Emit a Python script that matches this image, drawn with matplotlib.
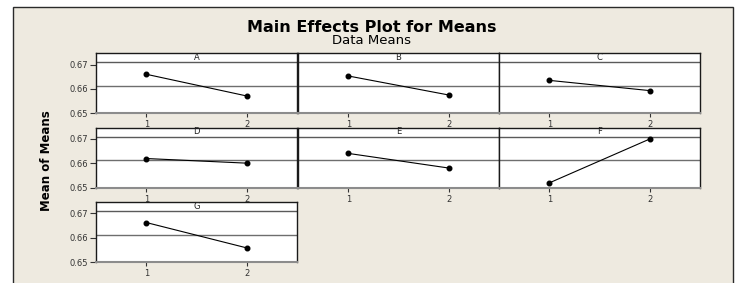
import numpy as np
import matplotlib
matplotlib.use("Agg")
import matplotlib.pyplot as plt
from matplotlib.patches import Rectangle

# factor levels and the mean response at each level
factors = ["A", "B", "C", "D", "E", "F", "G"]
levels = [1, 2]
level_means = {
    "A": [0.6660, 0.6571],
    "B": [0.6653, 0.6575],
    "C": [0.6635, 0.6593],
    "D": [0.6620, 0.6601],
    "E": [0.6641, 0.6581],
    "F": [0.6520, 0.6700],
    "G": [0.6663, 0.6559],
}
y_ticks = [0.65, 0.66, 0.67]
y_tick_labels = ["0.65", "0.66", "0.67"]

grand_mean = np.mean([v for vals in level_means.values() for v in vals])

W, H = 740, 283
fig = plt.figure(figsize=(W / 100, H / 100), dpi=100)
fig.patch.set_facecolor("white")

# beige frame like the Minitab graph window
frame = Rectangle((13 / W, -0.05), (733 - 13) / W, 1 - 7 / H + 0.05,
                  transform=fig.transFigure, facecolor="#EEEAE0",
                  edgecolor="#2a2a2a", lw=1.0, zorder=-10)
fig.add_artist(frame)

fig.text(372 / W, 1 - 27 / H, "Main Effects Plot for Means", ha="center",
         va="center", fontsize=11.5, fontweight="bold", color="black")
fig.text(372 / W, 1 - 40 / H, "Data Means", ha="center", va="center",
         fontsize=9.5, color="black")
fig.text(46 / W, 1 - 161 / H, "Mean of Means", rotation=90, ha="center",
         va="center", fontsize=8.5, fontweight="bold",
         family=["Liberation Sans Narrow", "DejaVu Sans"])

col_left = [96, 298, 499]
col_w = 201
row_top = [53, 127.5, 202]
row_h = 60.3
strip_frac = 1 - 9 / row_h

for i, f in enumerate(factors):
    r, c = divmod(i, 3)
    left = col_left[c] / W
    bottom = 1 - (row_top[r] + row_h) / H
    ax = fig.add_axes([left, bottom, col_w / W, row_h / H])
    ax.set_facecolor("white")

    ax.plot(levels, level_means[f], color="black", lw=0.8, marker="o",
            markersize=3.3, zorder=3)
    ax.axhline(grand_mean, color="#6e6e6e", lw=1.0, zorder=1)
    ax.plot([0, 1], [strip_frac, strip_frac], transform=ax.transAxes,
            color="#5a5a5a", lw=1.0, zorder=1)
    ax.text(0.5, (1 + strip_frac) / 2, f, transform=ax.transAxes,
            ha="center", va="center", fontsize=6, color="#222222")

    ax.set_xlim(0.5, 2.5)
    ax.set_ylim(0.65, 0.65 + row_h / 2440)
    ax.set_xticks(levels)
    ax.set_xticklabels([str(l) for l in levels])
    ax.set_yticks(y_ticks)
    if c == 0:
        ax.set_yticklabels(y_tick_labels)
        ax.tick_params(axis="y", length=4, width=0.8, pad=2,
                       labelsize=6, colors="#333333")
    else:
        ax.tick_params(axis="y", length=0, labelleft=False)
    ax.tick_params(axis="x", length=3, width=0.8, pad=2, labelsize=6,
                   colors="#333333")

    for side in ["top", "left", "right"]:
        ax.spines[side].set_color("#1a1a1a")
        ax.spines[side].set_linewidth(1.0)
    ax.spines["bottom"].set_color("#8c8c8c")
    ax.spines["bottom"].set_linewidth(1.5)

fig.savefig("out.png", dpi=100)
